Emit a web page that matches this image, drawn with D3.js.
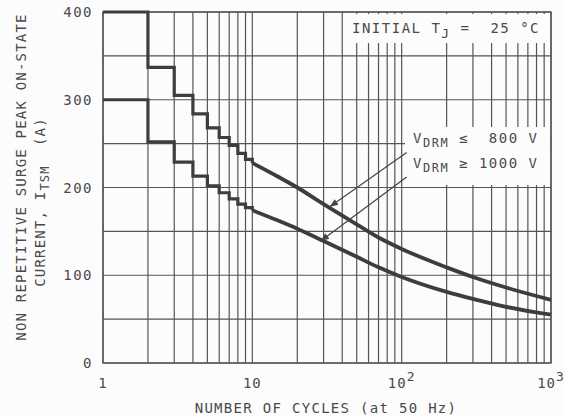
<!DOCTYPE html>
<html>
<head>
<meta charset="utf-8">
<script src="https://cdn.jsdelivr.net/npm/d3@7"></script>
<style>
  body { margin: 0; background: #fcfcfc; }
  svg { display: block; }
  text { font-family: "DejaVu Sans Mono", monospace; fill: #4a4a4a; white-space: pre; }
</style>
</head>
<body>
<div id="chart"></div>
<script>
// stepped part: one value per whole cycle
const STEP_CYCLES = [1, 2, 3, 4, 5, 6, 7, 8, 9, 10];
const UPPER_STEP = [400, 337, 305, 284, 268, 257, 248, 239, 232, 228];
const LOWER_STEP = [300, 252, 229, 213, 202, 194, 187, 181, 177, 174];

// smooth part of the curves
const SMOOTH_CYCLES = [10, 15, 20, 30, 50, 70, 100, 200, 300, 500, 1000];
const UPPER_SMOOTH = [228, 212, 200, 181, 158, 143, 130, 109, 98, 86, 72];
const LOWER_SMOOTH = [174, 162, 153, 139, 121, 109, 98, 81, 73, 64, 55];

const Y_TICKS = [0, 100, 200, 300, 400];
const X_TICKS = [1, 10, 100, 1000];

function drawChart() {
    // set chart dimensions
    const width = 565, height = 416;
    const margin = { left: 103, right: 14, top: 12, bottom: 53 };
    const innerW = width - margin.left - margin.right;
    const innerH = height - margin.top - margin.bottom;

    const svg = d3.select("#chart")
        .append("svg")
        .attr("width", width)
        .attr("height", height);

    const chart = svg.append("g")
        .attr("transform", `translate(${margin.left},${margin.top})`);

    // log x scale, linear y scale
    const x = d3.scaleLog().domain([1, 1000]).range([0, innerW]);
    const y = d3.scaleLinear().domain([0, 400]).range([innerH, 0]);

    const gridColor = "#555";

    // vertical grid: 1..9 of every decade
    const xGrid = [];
    for (let dec = 1; dec < 1000; dec *= 10) {
        for (let k = 1; k < 10; k++) xGrid.push(dec * k);
    }
    xGrid.push(1000);

    chart.append("g")
        .selectAll("line")
        .data(xGrid)
        .enter()
        .append("line")
        .attr("x1", (d) => x(d))
        .attr("x2", (d) => x(d))
        .attr("y1", 0)
        .attr("y2", innerH)
        .attr("stroke", gridColor)
        .attr("stroke-width", 1.2);

    // horizontal grid every 50 A
    chart.append("g")
        .selectAll("line")
        .data(d3.range(0, 401, 50))
        .enter()
        .append("line")
        .attr("x1", 0)
        .attr("x2", innerW)
        .attr("y1", (d) => y(d))
        .attr("y2", (d) => y(d))
        .attr("stroke", gridColor)
        .attr("stroke-width", 1.2);

    // white boxes behind the annotations
    chart.append("rect")
        .attr("x", 245).attr("y", 2)
        .attr("width", innerW - 246).attr("height", 29)
        .attr("fill", "#fcfcfc");
    chart.append("rect")
        .attr("x", 302).attr("y", 115)
        .attr("width", innerW - 303).attr("height", 58)
        .attr("fill", "#fcfcfc");

    // frame
    chart.append("rect")
        .attr("width", innerW)
        .attr("height", innerH)
        .attr("fill", "none")
        .attr("stroke", gridColor)
        .attr("stroke-width", 1.4);

    // curves
    const stepLine = d3.line()
        .x((d) => x(d[0]))
        .y((d) => y(d[1]))
        .curve(d3.curveStepAfter);
    const smoothLine = d3.line()
        .x((d) => x(d[0]))
        .y((d) => y(d[1]))
        .curve(d3.curveMonotoneX);

    const series = [
        [UPPER_STEP, UPPER_SMOOTH],
        [LOWER_STEP, LOWER_SMOOTH],
    ];
    series.forEach(([steps, smooth]) => {
        chart.append("path")
            .attr("d", stepLine(STEP_CYCLES.map((c, i) => [c, steps[i]])))
            .attr("fill", "none")
            .attr("stroke", "#3d3d3d")
            .attr("stroke-width", 3.2);
        chart.append("path")
            .attr("d", smoothLine(SMOOTH_CYCLES.map((c, i) => [c, smooth[i]])))
            .attr("fill", "none")
            .attr("stroke", "#3d3d3d")
            .attr("stroke-width", 3.8);
    });

    // y tick labels
    chart.append("g")
        .selectAll("text")
        .data(Y_TICKS)
        .enter()
        .append("text")
        .attr("x", -10)
        .attr("y", (d) => y(d) + 5)
        .attr("text-anchor", "end")
        .attr("font-size", "14px")
        .attr("letter-spacing", "1.5px")
        .text((d) => d);

    // x tick labels
    const xLabels = chart.append("g")
        .selectAll("text")
        .data(X_TICKS)
        .enter()
        .append("text")
        .attr("x", (d) => x(d))
        .attr("y", innerH + 25)
        .attr("text-anchor", "middle")
        .attr("font-size", "14px")
        .attr("letter-spacing", "1px");
    xLabels.each(function (d) {
        const t = d3.select(this);
        if (d < 100) {
            t.text(d);
        } else {
            t.append("tspan").text("10");
            t.append("tspan")
                .attr("dy", -7)
                .attr("font-size", "13px")
                .text(Math.round(Math.log10(d)));
        }
    });

    // x axis title
    chart.append("text")
        .attr("x", 223)
        .attr("y", innerH + 50)
        .attr("text-anchor", "middle")
        .attr("font-size", "14px")
        .attr("letter-spacing", "1.3px")
        .text("NUMBER OF CYCLES (at 50 Hz)");

    // y axis title, two lines
    svg.append("text")
        .attr("transform", "translate(26,177) rotate(-90)")
        .attr("text-anchor", "middle")
        .attr("font-size", "14px")
        .attr("letter-spacing", "1.2px")
        .text("NON REPETITIVE SURGE PEAK ON-STATE");
    const yt2 = svg.append("text")
        .attr("transform", "translate(45,202) rotate(-90)")
        .attr("text-anchor", "middle")
        .attr("font-size", "14px")
        .attr("letter-spacing", "1.2px");
    yt2.append("tspan").text("CURRENT, I");
    yt2.append("tspan").attr("dy", 4).attr("font-size", "12px").text("TSM");
    yt2.append("tspan").attr("dy", -4).text("  (A)");

    // temperature note
    const note = chart.append("text")
        .attr("x", 249)
        .attr("y", 21)
        .attr("font-size", "14px")
        .attr("letter-spacing", "1.5px");
    note.append("tspan").text("INITIAL T");
    note.append("tspan").attr("dy", 5).attr("font-size", "13px").text("J");
    note.append("tspan").attr("dy", -5).text(" =  25 °C");

    // legend labels
    const legend = [
        { label: " ≤  800 V", base: 131 },
        { label: " ≥ 1000 V", base: 156 },
    ];
    legend.forEach((l) => {
        const t = chart.append("text")
            .attr("x", 310)
            .attr("y", l.base)
            .attr("font-size", "14px")
            .attr("letter-spacing", "1.5px");
        t.append("tspan").text("V");
        t.append("tspan").attr("dy", 4).attr("font-size", "12px").text("DRM");
        t.append("tspan").attr("dy", -4).text(l.label);
    });

    // arrows pointing to the curves
    svg.append("defs").append("marker")
        .attr("id", "arrow")
        .attr("viewBox", "0 0 10 10")
        .attr("refX", 10).attr("refY", 5)
        .attr("markerWidth", 7).attr("markerHeight", 7)
        .attr("orient", "auto")
        .append("path")
        .attr("d", "M0,1 L10,5 L0,9 z")
        .attr("fill", "#444");

    const arrows = [
        { from: [108, 240], to: [33, 178] },
        { from: [108, 212], to: [28.7, 139] },
    ];
    chart.append("g")
        .selectAll("line")
        .data(arrows)
        .enter()
        .append("line")
        .attr("x1", (d) => x(d.from[0]))
        .attr("y1", (d) => y(d.from[1]))
        .attr("x2", (d) => x(d.to[0]))
        .attr("y2", (d) => y(d.to[1]))
        .attr("stroke", "#444")
        .attr("stroke-width", 1.2)
        .attr("marker-end", "url(#arrow)");
}

window.onload = () => {
    drawChart();
};
</script>
</body>
</html>
